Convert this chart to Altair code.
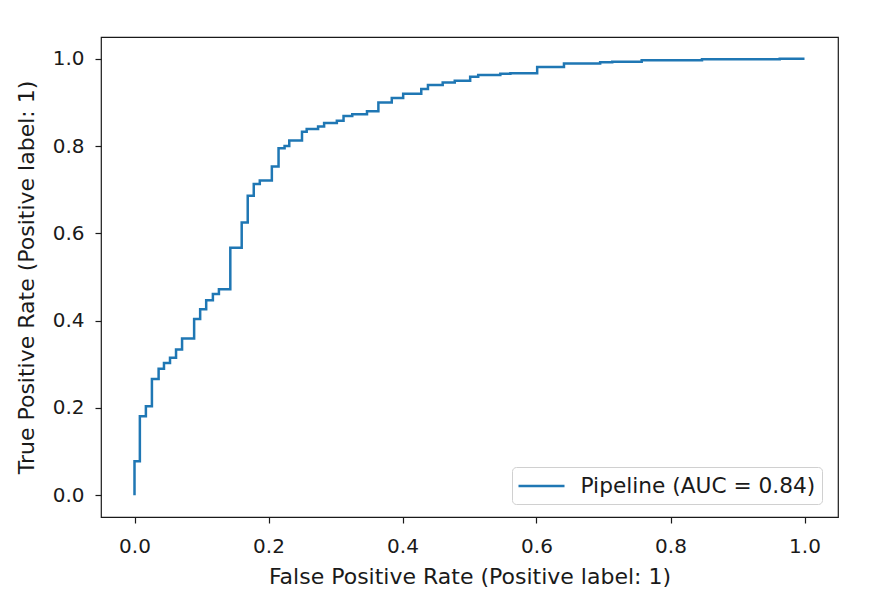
import altair as alt
import pandas as pd

# ROC curve vertices (staircase corners)
fpr = [0, 0, 0.008, 0.008, 0.017, 0.017, 0.026, 0.026, 0.036, 0.036, 0.044, 0.044,
       0.053, 0.053, 0.062, 0.062, 0.071, 0.071, 0.089, 0.089, 0.098, 0.098, 0.107, 0.107,
       0.117, 0.117, 0.126, 0.126, 0.143, 0.143, 0.160, 0.160, 0.169, 0.169, 0.178, 0.178,
       0.187, 0.187, 0.205, 0.205, 0.215, 0.215, 0.224, 0.224, 0.231, 0.231, 0.250, 0.250,
       0.257, 0.257, 0.274, 0.274, 0.283, 0.283, 0.302, 0.302, 0.312, 0.312, 0.325, 0.325,
       0.347, 0.347, 0.364, 0.364, 0.384, 0.384, 0.401, 0.401, 0.428, 0.428, 0.438, 0.438,
       0.460, 0.460, 0.478, 0.478, 0.501, 0.501, 0.513, 0.513, 0.546, 0.546, 0.561, 0.561,
       0.601, 0.601, 0.641, 0.641, 0.695, 0.695, 0.713, 0.713, 0.757, 0.757, 0.847, 0.847,
       0.963, 0.963, 1.0]
tpr = [0, 0.078, 0.078, 0.181, 0.181, 0.204, 0.204, 0.266, 0.266, 0.290, 0.290, 0.303,
       0.303, 0.315, 0.315, 0.334, 0.334, 0.359, 0.359, 0.404, 0.404, 0.426, 0.426, 0.447,
       0.447, 0.461, 0.461, 0.472, 0.472, 0.567, 0.567, 0.625, 0.625, 0.686, 0.686, 0.713,
       0.713, 0.721, 0.721, 0.753, 0.753, 0.795, 0.795, 0.800, 0.800, 0.813, 0.813, 0.833,
       0.833, 0.839, 0.839, 0.845, 0.845, 0.853, 0.853, 0.858, 0.858, 0.869, 0.869, 0.873,
       0.873, 0.880, 0.880, 0.900, 0.900, 0.910, 0.910, 0.920, 0.920, 0.931, 0.931, 0.940,
       0.940, 0.946, 0.946, 0.950, 0.950, 0.959, 0.959, 0.963, 0.963, 0.966, 0.966, 0.967,
       0.967, 0.981, 0.981, 0.989, 0.989, 0.992, 0.992, 0.993, 0.993, 0.997, 0.997, 0.999,
       0.999, 1.0, 1.0]
series_label = "Pipeline (AUC = 0.84)"
tick_values = [0.0, 0.2, 0.4, 0.6, 0.8, 1.0]
x_title = "False Positive Rate (Positive label: 1)"
y_title = "True Positive Rate (Positive label: 1)"

df = pd.DataFrame({"fpr": fpr, "tpr": tpr, "idx": list(range(len(fpr))),
                   "series": [series_label] * len(fpr)})

FONT = "DejaVu Sans"
TXT = "#1a1a1a"

chart = alt.Chart(df).mark_line(strokeWidth=2.5, interpolate="linear").encode(
    x=alt.X("fpr:Q", scale=alt.Scale(domain=[-0.05, 1.05], nice=False, zero=False),
            axis=alt.Axis(values=tick_values, format=".1f", grid=False, domain=False,
                          tickSize=6, tickWidth=1.2, tickColor=TXT,
                          labelFont=FONT, labelFontSize=20, labelColor=TXT, labelPadding=13,
                          labelFlush=False,
                          title=x_title, titleFont=FONT, titleFontSize=22, titleFontWeight="normal",
                          titleColor=TXT, titleY=66, titleBaseline="alphabetic")),
    y=alt.Y("tpr:Q", scale=alt.Scale(domain=[-0.05, 1.05], nice=False, zero=False),
            axis=alt.Axis(values=tick_values, format=".1f", grid=False, domain=False,
                          tickSize=6, tickWidth=1.2, tickColor=TXT,
                          labelFont=FONT, labelFontSize=20, labelColor=TXT, labelPadding=11,
                          labelFlush=False,
                          title=y_title, titleFont=FONT, titleFontSize=22, titleFontWeight="normal",
                          titleColor=TXT, titleX=-68, titleY=240, titleAngle=270,
                          titleAlign="center", titleBaseline="alphabetic")),
    order="idx:Q",
    color=alt.Color("series:N",
                    scale=alt.Scale(domain=[series_label], range=["#1f77b4"]),
                    legend=alt.Legend(title=None, orient="none", legendX=411, legendY=430,
                                      padding=6, strokeColor="#d0d0d0", fillColor="white",
                                      cornerRadius=4, symbolType="M-2,0L2,0", symbolSize=529,
                                      symbolStrokeWidth=2.5, symbolOffset=10.5, labelOffset=26,
                                      labelFont=FONT, labelFontSize=21.7, labelColor=TXT,
                                      labelLimit=400)),
).properties(
    width=737, height=480,
    autosize=alt.AutoSizeParams(type="none"),
    padding={"left": 93, "top": 29, "right": 24, "bottom": 70},
).configure(
    background="white",
    view=alt.ViewConfig(stroke=TXT, strokeWidth=1.2),
)

chart.save("out.html", embed_options={"renderer": "svg", "actions": False})
